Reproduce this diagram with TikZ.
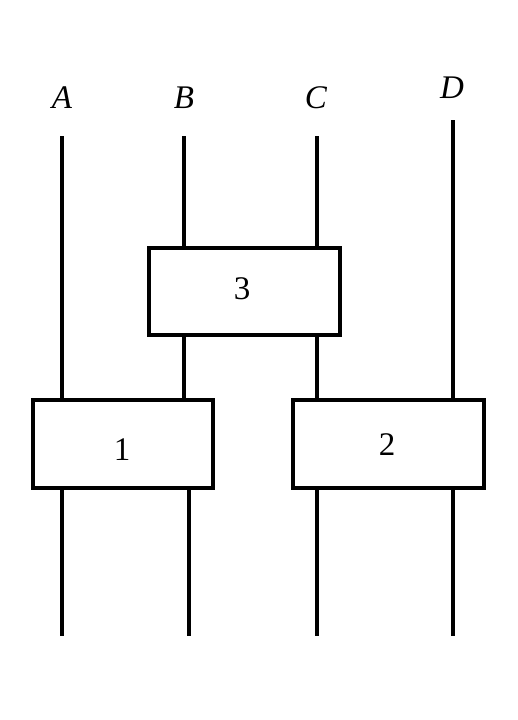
\documentclass[tikz,border=0pt]{standalone}
\usepackage{fontspec}
\setmainfont{Liberation Serif}
\begin{document}
\begin{tikzpicture}[x=1pt,y=-1pt,
  wire/.style={line width=3.2pt},
  gate/.style={draw,line width=3.2pt,inner sep=0pt,fill=white},
  lbl/.style={font=\fontsize{33}{38}\selectfont,inner sep=0pt}]
\useasboundingbox (0,0) rectangle (517,720);
% boxes
\node[gate,minimum width=191pt,minimum height=87pt] (b3) at (244.5,291.5) {};
\node[gate,minimum width=180pt,minimum height=88pt] (b1) at (123,444) {};
\node[gate,minimum width=191pt,minimum height=88pt] (b2) at (388.5,444) {};
\node[lbl] (n3) at (242,289) {3};
\node[lbl] (n1) at (122,450) {1};
\node[lbl] (n2) at (387,445) {2};
% labels
\node[lbl] (lA) at (62,98) {\textit{A}};
\node[lbl] (lB) at (184,98) {\textit{B}};
\node[lbl] (lC) at (316,98) {\textit{C}};
\node[lbl] (lD) at (452,88) {\textit{D}};
% wire ends
\coordinate (At) at (62,136);
\coordinate (Bt) at (184,136);
\coordinate (Ct) at (317,136);
\coordinate (Dt) at (453,120);
\coordinate (Ab) at (62,636);
\coordinate (Bb) at (189,636);
\coordinate (Cb) at (317,636);
\coordinate (Db) at (453,636);
% wires
\draw[wire] (At) -- (At |- b1.north);
\draw[wire] (b1.south -| Ab) -- (Ab);
\draw[wire] (Bt) -- (Bt |- b3.north);
\draw[wire] (b3.south -| Bt) -- (Bt |- b1.north);
\draw[wire] (b1.south -| Bb) -- (Bb);
\draw[wire] (Ct) -- (Ct |- b3.north);
\draw[wire] (b3.south -| Ct) -- (Ct |- b2.north);
\draw[wire] (b2.south -| Cb) -- (Cb);
\draw[wire] (Dt) -- (Dt |- b2.north);
\draw[wire] (b2.south -| Db) -- (Db);
\end{tikzpicture}
\end{document}
